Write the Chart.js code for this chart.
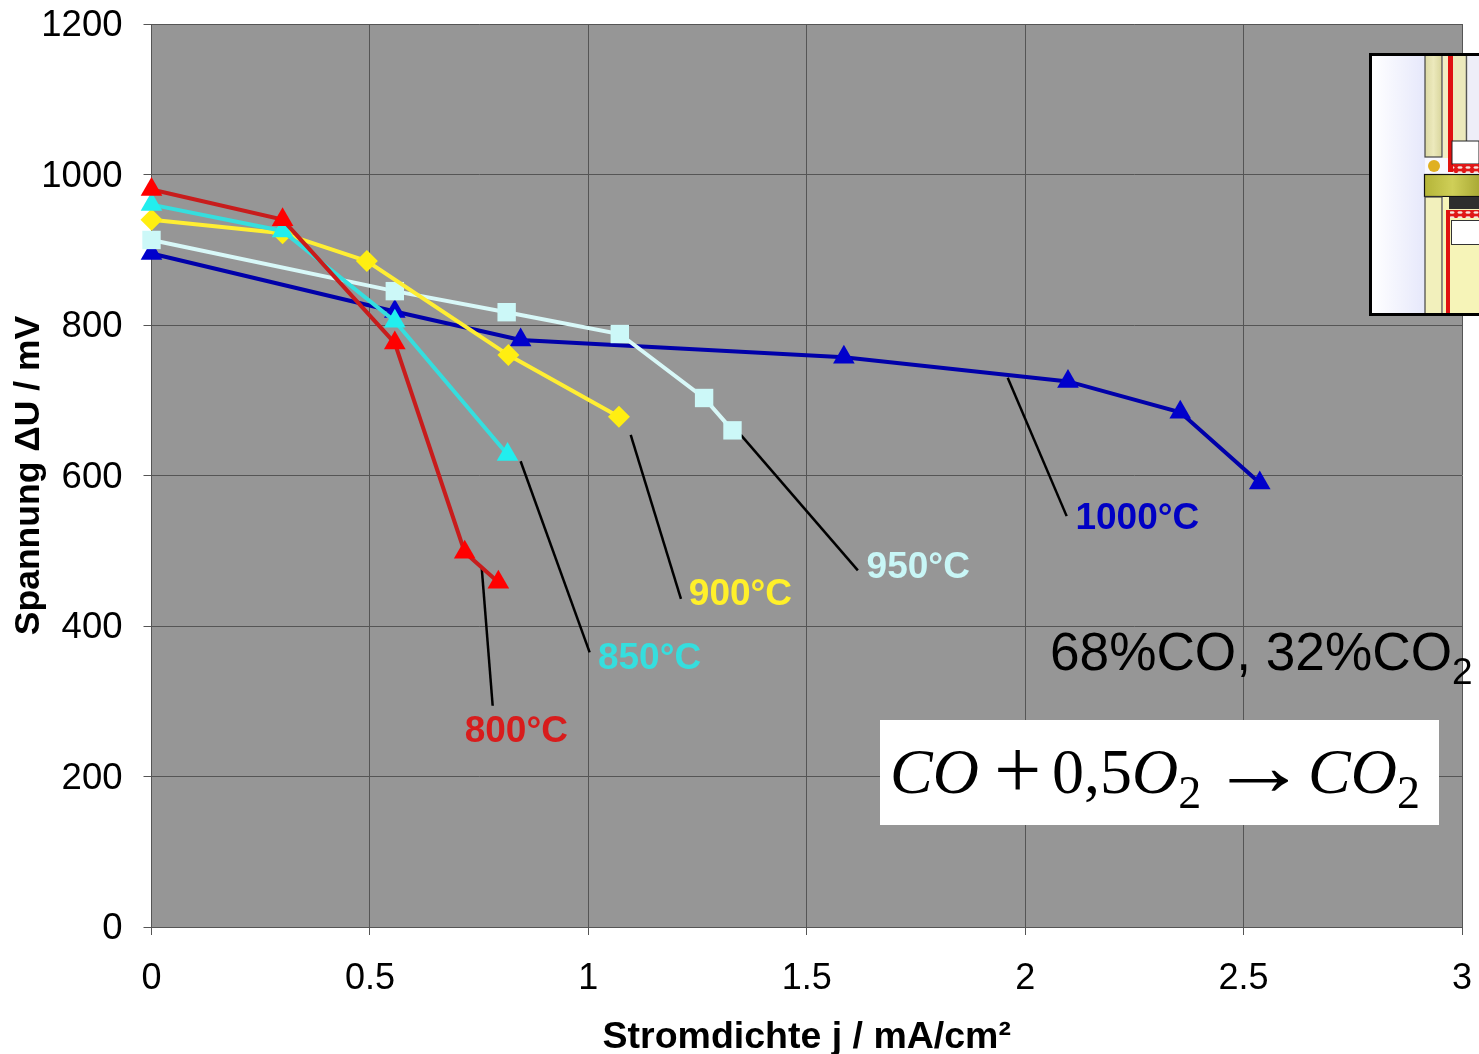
<!DOCTYPE html>
<html><head><meta charset="utf-8">
<script src="https://cdn.jsdelivr.net/npm/chart.js@4"></script>
<style>
html,body{margin:0;padding:0;background:#fff;overflow:hidden}
#wrap{position:relative;width:1479px;height:1054px;overflow:hidden}
canvas{position:absolute;left:0;top:0}
.note{position:absolute;white-space:nowrap;color:#000}
#gas{left:1050px;top:622px;font:53.2px/60px "Liberation Sans",Arial,sans-serif}
#gas sub{font-size:37px;line-height:0;vertical-align:-14px}
#eq{left:880px;top:720px;width:559px;height:105px;background:#fff;font:64px/105px "Liberation Serif",serif}
#eq span{position:absolute;top:-1px}
#eq i{font-style:italic}
#eq sub{font-size:46px;line-height:0;vertical-align:-15px}
#inset{position:absolute;left:1369px;top:53px}
</style></head><body>
<div id="wrap">
<canvas id="c" width="1479" height="1054"></canvas>
<div class="note" id="gas">68%CO, 32%CO<sub>2</sub></div>
<div class="note" id="eq"><span style="left:10px"><i>CO</i></span><span style="left:114px;font-size:84px;top:-3px">+</span><span style="left:172px">0,5<i>O</i><sub>2</sub></span><span style="left:329px;font-size:86px;top:-6px;transform:scaleX(1.15);transform-origin:left">→</span><span style="left:428px"><i>CO</i><sub>2</sub></span></div>
<svg id="inset" width="110" height="263" viewBox="1369 53 110 263">
 <defs>
  <linearGradient id="g1" x1="0" x2="1" y1="0" y2="0"><stop offset="0" stop-color="#ffffff"/><stop offset="1" stop-color="#e6e8fb"/></linearGradient>
  <linearGradient id="g2" x1="0" x2="1" y1="0" y2="0"><stop offset="0" stop-color="#dcd9a4"/><stop offset=".5" stop-color="#ece9bc"/><stop offset="1" stop-color="#d8d59c"/></linearGradient>
  <linearGradient id="g3" x1="0" x2="1" y1="0" y2="0"><stop offset="0" stop-color="#b4b438"/><stop offset=".5" stop-color="#cfcf58"/><stop offset="1" stop-color="#a8a834"/></linearGradient>
  <pattern id="lat" width="8" height="5" patternUnits="userSpaceOnUse"><rect width="8" height="5" fill="#e01818"/><ellipse cx="4" cy="2.5" rx="2.6" ry="1.2" fill="#f6e6e0"/></pattern>
 </defs>
 <rect x="1369" y="53" width="110" height="263" fill="#fff"/>
 <rect x="1372" y="55" width="53" height="259" fill="url(#g1)"/>
 <rect x="1425" y="157" width="24" height="18" fill="#f8f8ff"/>
 <rect x="1425" y="55" width="17" height="102" fill="url(#g2)" stroke="#444" stroke-width="1.2"/>
 <rect x="1443" y="55" width="5" height="103" fill="#f2eec4"/>
 <rect x="1448" y="55" width="5" height="117" fill="#e01010"/>
 <rect x="1453" y="55" width="13" height="86" fill="#ece9bc"/>
 <line x1="1466.5" x2="1466.5" y1="55" y2="141" stroke="#555" stroke-width="1.5"/>
 <rect x="1468" y="55" width="11" height="86" fill="#eeeef8"/>
 <rect x="1452" y="141" width="27" height="23" fill="#fff" stroke="#222" stroke-width="1"/>
 <rect x="1453" y="164" width="26" height="9" fill="url(#lat)"/>
 <circle cx="1434" cy="166" r="6" fill="#e0b020"/>
 <rect x="1424.5" y="174.5" width="56" height="22" fill="url(#g3)" stroke="#111" stroke-width="1.2"/>
 <rect x="1425" y="197" width="17" height="117" fill="#f2f0bc" stroke="#444" stroke-width="1.2"/>
 <rect x="1443" y="197" width="36" height="117" fill="#f6f4b8"/>
 <rect x="1449" y="197" width="30" height="12" fill="#2e2e2e"/>
 <rect x="1446" y="210" width="33" height="8" fill="url(#lat)"/>
 <rect x="1446" y="210" width="4" height="104" fill="#e01010"/>
 <rect x="1451.5" y="220.5" width="28" height="24" fill="#fff" stroke="#333" stroke-width="1"/>
 <rect x="1370.5" y="54.5" width="110" height="260" fill="none" stroke="#000" stroke-width="3"/>
</svg>
</div>
<script>
// Stromdichte j / mA/cm² and Spannung ΔU / mV
const x800  = [0, 0.3, 0.557, 0.717, 0.794];
const y800  = [980, 940, 776, 498, 458];
const x850  = [0, 0.3, 0.557, 0.815];
const y850  = [960, 925, 805, 628];
const x900  = [0, 0.3, 0.493, 0.817, 1.07];
const y900  = [940, 922, 885, 760, 678];
const x950  = [0, 0.557, 0.813, 1.072, 1.265, 1.33];
const y950  = [913, 845, 817, 788, 703, 660];
const x1000 = [0, 0.557, 0.845, 1.585, 2.098, 2.355, 2.537];
const y1000 = [895, 818, 780, 757, 725, 684, 590];
const xTicks = [0, 0.5, 1, 1.5, 2, 2.5, 3];
const yTicks = [0, 200, 400, 600, 800, 1000, 1200];
const seriesNames = ["800°C", "850°C", "900°C", "950°C", "1000°C"];
// leader lines from each curve to its label [x, y]
const lead800  = [[0.756, 477], [0.781, 294]];
const lead850  = [[0.845, 619], [1.003, 365]];
const lead900  = [[1.097, 654], [1.212, 436]];
const lead950  = [[1.349, 654], [1.617, 474]];
const lead1000 = [[1.96, 730], [2.095, 546]];
// label anchors [x, y]
const labelAt = [[0.717, 259], [1.022, 356], [1.23, 441], [1.637, 477], [2.115, 542]];
const labelColor = ["#d81c1c", "#35dede", "#fff02a", "#c8f6f6", "#0000c4"];

const zip = (a, b) => a.map((v, i) => ({x: v, y: b[i]}));
const curve = (label, xs, ys, line, fill, style, r) => ({
  label, data: zip(xs, ys), showLine: true, borderColor: line, borderWidth: 4, clip: false,
  pointStyle: style, pointRadius: r, pointBackgroundColor: fill, pointBorderColor: fill, pointBorderWidth: 0, tension: 0
});
const leader = pts => ({
  label: "", data: pts.map(p => ({x: p[0], y: p[1]})), showLine: true,
  borderColor: "#000", borderWidth: 2.5, pointRadius: 0, tension: 0
});
const FIX = {left: 151.5, bottom: 127};
const plotBg = {
  id: "plotBg",
  beforeDraw(ch) { const a = ch.chartArea, c = ch.ctx; c.save(); c.fillStyle = "#969696"; c.fillRect(a.left, a.top, a.width, a.height); c.restore(); }
};
const labels = {
  id: "labels",
  afterDatasetsDraw(ch) {
    const c = ch.ctx; c.save();
    c.font = 'bold 37px "Liberation Sans", Arial, sans-serif';
    c.textBaseline = "middle"; c.textAlign = "left";
    seriesNames.forEach((n, i) => {
      c.fillStyle = labelColor[i];
      c.fillText(n, ch.scales.x.getPixelForValue(labelAt[i][0]), ch.scales.y.getPixelForValue(labelAt[i][1]));
    });
    c.restore();
  }
};
new Chart(document.getElementById("c"), {
  type: "scatter",
  data: { datasets: [
    curve("800°C", x800, y800, "#c81c1c", "#ff0000", "triangle", 12.5),
    curve("850°C", x850, y850, "#35dede", "#22eeee", "triangle", 12.5),
    curve("900°C", x900, y900, "#ffee33", "#ffee11", "rectRot", 11),
    curve("950°C", x950, y950, "#d8f8f8", "#ccf8f8", "rect", 13),
    curve("1000°C", x1000, y1000, "#0000aa", "#0000cc", "triangle", 12.5),
    leader(lead800), leader(lead850), leader(lead900), leader(lead950), leader(lead1000)
  ]},
  options: {
    responsive: false, animation: false,
    layout: {padding: {top: 24, right: 17, left: 0, bottom: 0}},
    plugins: {legend: {display: false}, tooltip: {enabled: false}},
    scales: {
      x: {
        type: "linear", min: 0, max: 3,
        afterFit(s) { s.height = FIX.bottom; s.paddingLeft = 0; s.paddingRight = 0; },
        afterBuildTicks(s) { s.ticks = xTicks.map(v => ({value: v})); },
        grid: {color: "#555", lineWidth: 1, tickLength: 8},
        border: {color: "#555"},
        ticks: {color: "#000", padding: 22, maxRotation: 0, font: {size: 36, family: '"Liberation Sans", Arial, sans-serif'}, callback: v => String(v)},
        title: {display: true, text: "Stromdichte j / mA/cm²", color: "#000", padding: {top: 0, bottom: -6}, font: {size: 37.5, weight: "bold", family: '"Liberation Sans", Arial, sans-serif'}}
      },
      y: {
        type: "linear", min: 0, max: 1200,
        afterFit(s) { s.width = FIX.left; s.paddingTop = 0; s.paddingBottom = 0; },
        afterBuildTicks(s) { s.ticks = yTicks.map(v => ({value: v})); },
        grid: {color: "#555", lineWidth: 1, tickLength: 8},
        border: {color: "#555"},
        ticks: {color: "#000", padding: 21, labelOffset: 2, font: {size: 36.5, family: '"Liberation Sans", Arial, sans-serif'}, callback: v => String(v)},
        title: {display: true, text: "Spannung ΔU / mV", color: "#000", padding: {top: 8, bottom: 0}, font: {size: 35.5, weight: "bold", family: '"Liberation Sans", Arial, sans-serif'}}
      }
    }
  },
  plugins: [plotBg, labels]
});
</script>
</body></html>
